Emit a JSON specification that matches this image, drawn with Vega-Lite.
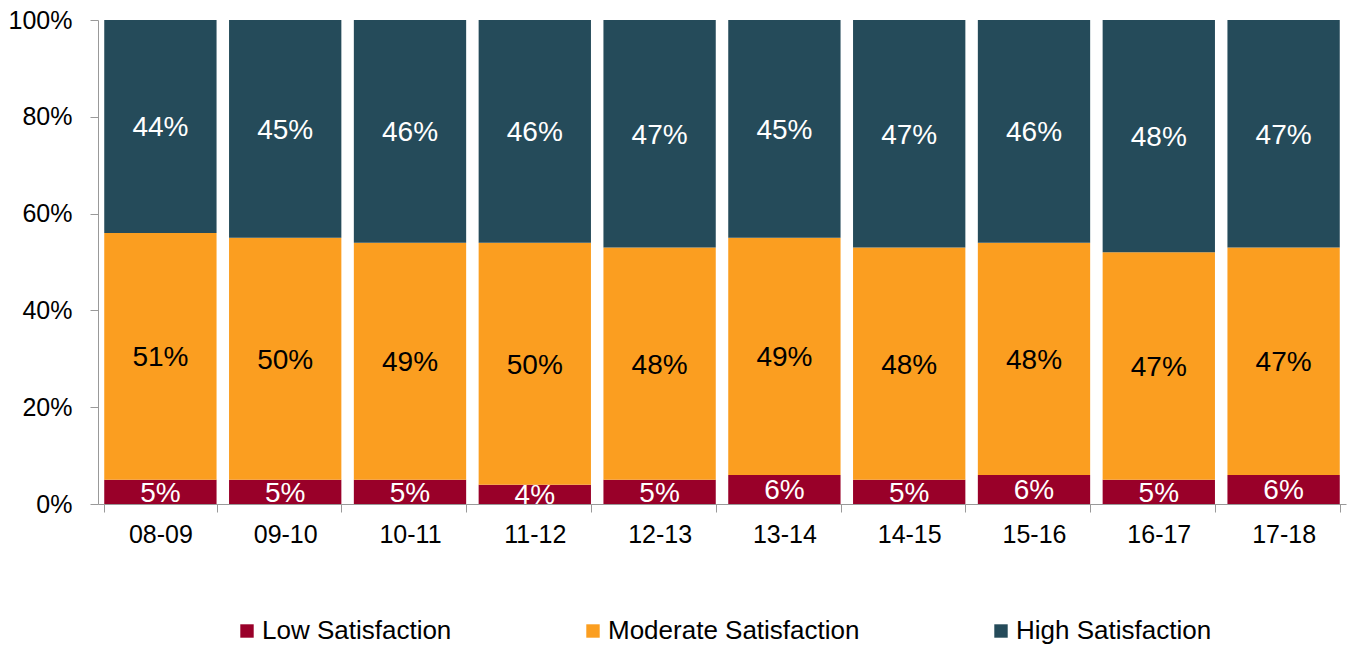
{
  "$schema": "https://vega.github.io/schema/vega-lite/v6.json",
  "width": 1248,
  "height": 484,
  "autosize": {"type": "none"},
  "padding": {"left": 98, "top": 20, "right": 2, "bottom": 142},
  "background": "white",
  "config": {
    "view": {"stroke": null},
    "font": "Liberation Sans",
    "axis": {"labelFont": "Liberation Sans", "labelColor": "#000000", "labelFontSize": 25, "domainColor": "#999999", "tickColor": "#999999", "tickSize": 8, "grid": false, "title": null}
  },
  "data": {
    "values": [
      {"year": "08-09", "level": "Low Satisfaction", "order": 1, "value": 0.05},
      {"year": "08-09", "level": "Moderate Satisfaction", "order": 2, "value": 0.51},
      {"year": "08-09", "level": "High Satisfaction", "order": 3, "value": 0.44},
      {"year": "09-10", "level": "Low Satisfaction", "order": 1, "value": 0.05},
      {"year": "09-10", "level": "Moderate Satisfaction", "order": 2, "value": 0.50},
      {"year": "09-10", "level": "High Satisfaction", "order": 3, "value": 0.45},
      {"year": "10-11", "level": "Low Satisfaction", "order": 1, "value": 0.05},
      {"year": "10-11", "level": "Moderate Satisfaction", "order": 2, "value": 0.49},
      {"year": "10-11", "level": "High Satisfaction", "order": 3, "value": 0.46},
      {"year": "11-12", "level": "Low Satisfaction", "order": 1, "value": 0.04},
      {"year": "11-12", "level": "Moderate Satisfaction", "order": 2, "value": 0.50},
      {"year": "11-12", "level": "High Satisfaction", "order": 3, "value": 0.46},
      {"year": "12-13", "level": "Low Satisfaction", "order": 1, "value": 0.05},
      {"year": "12-13", "level": "Moderate Satisfaction", "order": 2, "value": 0.48},
      {"year": "12-13", "level": "High Satisfaction", "order": 3, "value": 0.47},
      {"year": "13-14", "level": "Low Satisfaction", "order": 1, "value": 0.06},
      {"year": "13-14", "level": "Moderate Satisfaction", "order": 2, "value": 0.49},
      {"year": "13-14", "level": "High Satisfaction", "order": 3, "value": 0.45},
      {"year": "14-15", "level": "Low Satisfaction", "order": 1, "value": 0.05},
      {"year": "14-15", "level": "Moderate Satisfaction", "order": 2, "value": 0.48},
      {"year": "14-15", "level": "High Satisfaction", "order": 3, "value": 0.47},
      {"year": "15-16", "level": "Low Satisfaction", "order": 1, "value": 0.06},
      {"year": "15-16", "level": "Moderate Satisfaction", "order": 2, "value": 0.48},
      {"year": "15-16", "level": "High Satisfaction", "order": 3, "value": 0.46},
      {"year": "16-17", "level": "Low Satisfaction", "order": 1, "value": 0.05},
      {"year": "16-17", "level": "Moderate Satisfaction", "order": 2, "value": 0.47},
      {"year": "16-17", "level": "High Satisfaction", "order": 3, "value": 0.48},
      {"year": "17-18", "level": "Low Satisfaction", "order": 1, "value": 0.06},
      {"year": "17-18", "level": "Moderate Satisfaction", "order": 2, "value": 0.47},
      {"year": "17-18", "level": "High Satisfaction", "order": 3, "value": 0.47}
    ]
  },
  "encoding": {
    "x": {
      "field": "year", "type": "nominal", "sort": null,
      "scale": {"paddingInner": 0.1, "paddingOuter": 0.05},
      "axis": {"labelAngle": 0, "tickBand": "extent", "labelPadding": 10}
    },
    "y": {
      "field": "value", "type": "quantitative", "stack": "zero",
      "scale": {"domain": [0, 1], "nice": false},
      "axis": {"values": [0, 0.2, 0.4, 0.6, 0.8, 1], "format": ".0%", "labelPadding": 18}
    },
    "order": {"field": "order", "type": "quantitative"}
  },
  "layer": [
    {
      "mark": {"type": "bar"},
      "encoding": {
        "color": {
          "field": "level", "type": "nominal",
          "scale": {"domain": ["Low Satisfaction", "Moderate Satisfaction", "High Satisfaction"], "range": ["#990029", "#FB9E20", "#254B5A"]},
          "legend": {
            "title": null, "orient": "none", "direction": "horizontal", "columns": 3,
            "legendX": 136, "legendY": 598,
            "symbolType": "square", "symbolSize": 180, "symbolStrokeWidth": 0,
            "labelFontSize": 26, "labelColor": "#000000", "labelFont": "Liberation Sans",
            "labelLimit": 0, "labelOffset": 2, "columnPadding": 128
          }
        }
      }
    },
    {
      "mark": {"type": "text", "fontSize": 28, "baseline": "middle", "dy": 2},
      "encoding": {
        "y": {"field": "value", "type": "quantitative", "stack": "zero", "bandPosition": 0.5},
        "text": {"field": "value", "type": "quantitative", "format": ".0%"},
        "color": {
          "condition": {"test": "datum.level === 'Moderate Satisfaction'", "value": "#000000"},
          "value": "#FFFFFF"
        }
      }
    }
  ]
}
